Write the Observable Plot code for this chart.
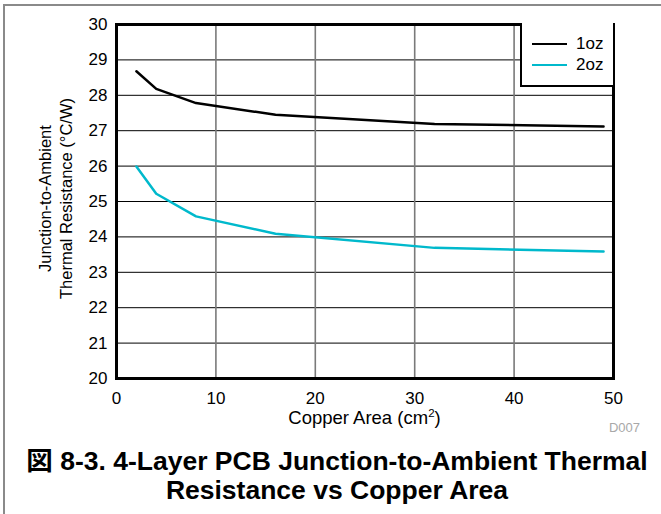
<!DOCTYPE html>
<html>
<head>
<meta charset="utf-8">
<script src="https://cdn.jsdelivr.net/npm/d3@7"></script>
<script src="https://cdn.jsdelivr.net/npm/@observablehq/plot@0.6"></script>
<style>
  html, body { margin: 0; padding: 0; background: #fff; }
  #wrap { position: relative; width: 661px; height: 514px; overflow: hidden; font-family: "Liberation Sans", Arial, sans-serif; }
  #border { position: absolute; left: 3px; top: 4px; width: 680px; height: 540px; border-left: 2px solid #8a8a8a; border-top: 2px solid #8a8a8a; }
  #chart { position: absolute; left: 0; top: 0; }
  #legend { position: absolute; left: 520px; top: 23px; width: 91px; height: 62px; border-left: 2px solid #000; border-bottom: 2px solid #000; background: #fff; }
  .lg { position: absolute; left: 10px; font-size: 17px; line-height: 17px; }
  .lg span.sw { display: inline-block; width: 35px; height: 0; border-top: 2.5px solid; vertical-align: middle; margin-right: 9px; position: relative; top: -1px; }
  #xlabel { position: absolute; left: 214px; width: 301px; top: 407px; text-align: center; font-size: 18.5px; line-height: 21px; color: #000; }
  #xlabel sup { font-size: 11.5px; vertical-align: 7px; line-height: 0; }
  #d007 { position: absolute; right: 21px; top: 420px; font-size: 13px; color: #a8a8a8; }
  #title { position: absolute; left: 0; width: 674px; top: 444px; text-align: center; font-weight: bold; font-size: 26.5px; line-height: 29px; color: #000; }
  #title .cjk { font-family: "Noto Sans CJK JP", sans-serif; }
</style>
</head>
<body>
<div id="wrap">
  <div id="border"></div>
  <div id="chart"></div>
  <div id="legend"></div>
  <div id="xlabel"></div>
  <div id="d007">D007</div>
  <div id="title"><span class="cjk">図</span> 8-3. 4-Layer PCB Junction-to-Ambient Thermal<br>Resistance vs Copper Area</div>
</div>
<script>
// Data
const area = [2, 4, 8, 16, 32, 49];           // Copper area (cm²)
const oz1 = [28.68, 28.18, 27.78, 27.45, 27.19, 27.12];
const oz2 = [25.99, 25.22, 24.58, 24.09, 23.69, 23.59];
const seriesNames = ["1oz", "2oz"];
const seriesColors = ["#000000", "#00b9cc"];
const xTicks = [0, 10, 20, 30, 40, 50];
const yTicks = [20, 21, 22, 23, 24, 25, 26, 27, 28, 29, 30];
const xLabelMain = "Copper Area (cm";
const xLabelSup = "2";
const yLabel = "Junction-to-Ambient\nThermal Resistance (°C/W)";

const rows = [];
area.forEach((a, i) => {
  rows.push({area: a, r: oz1[i], s: seriesNames[0]});
  rows.push({area: a, r: oz2[i], s: seriesNames[1]});
});

const chart = Plot.plot({
  width: 661,
  height: 440,
  marginLeft: 116,
  marginRight: 48,
  marginTop: 24,
  marginBottom: 62,
  style: {fontFamily: "'Liberation Sans', Arial, sans-serif", fontSize: "17px", background: "transparent", color: "#000", overflow: "visible"},
  x: {domain: [0, 50], ticks: xTicks, tickSize: 0, tickPadding: 13, label: null},
  y: {domain: [20, 30], ticks: yTicks, tickSize: 0, tickPadding: 9, label: null},
  color: {domain: seriesNames, range: seriesColors},
  marks: [
    Plot.gridY(yTicks, {stroke: "#000", strokeOpacity: 1, strokeWidth: 1}),
    Plot.gridX(xTicks, {stroke: "#7a7a7a", strokeOpacity: 1, strokeWidth: 1.6}),
    Plot.line(rows, {x: "area", y: "r", z: "s", stroke: "s", strokeWidth: 2.5}),
    Plot.frame({stroke: "#000", strokeWidth: 3}),
    Plot.axisX(xTicks, {tickSize: 0, tickPadding: 13, fontSize: 17, label: null}),
    Plot.axisY(yTicks, {tickSize: 0, tickPadding: 9, fontSize: 17, label: null}),
    Plot.text([yLabel], {frameAnchor: "left", dx: -62, dy: -3, rotate: -90, fontSize: 16.5, lineHeight: 1.33, textAnchor: "middle"})
  ]
});
document.getElementById("chart").appendChild(chart);

// x-axis label with real superscript
const xl = d3.select("#xlabel");
xl.append("span").text(xLabelMain);
xl.append("sup").text(xLabelSup);
xl.append("span").text(")");

// legend built from the series arrays
const lg = d3.select("#legend");
seriesNames.forEach((n, i) => {
  const row = lg.append("div").attr("class", "lg").style("top", (12 + i * 21) + "px");
  row.append("span").attr("class", "sw").style("border-color", seriesColors[i]);
  row.append("span").text(n);
});
</script>
</body>
</html>
